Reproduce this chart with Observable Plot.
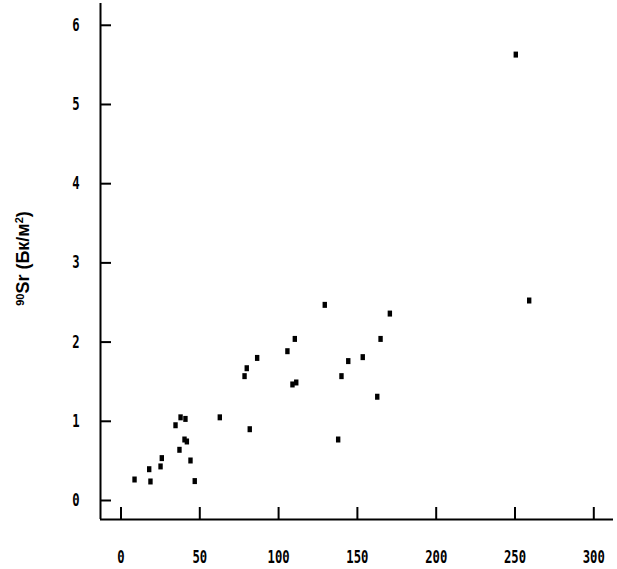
<!DOCTYPE html>
<html>
<head>
<meta charset="utf-8">
<script src="https://cdn.jsdelivr.net/npm/d3@7"></script>
<script src="https://cdn.jsdelivr.net/npm/@observablehq/plot@0.6"></script>
<style>
  html, body { margin: 0; padding: 0; background: #fff; }
</style>
</head>
<body>
<div id="chart"></div>
<script>
// Data
const xVals = [8.6, 18.7, 17.9, 25.1, 25.9, 34.6, 37.8, 40.9, 37.1, 40.3, 41.8, 44.1, 46.8,
               62.7, 81.7, 78.4, 79.8, 86.4, 105.6, 110.3, 108.8, 111.2, 129.3,
               170.6, 164.7, 153.4, 144.2, 139.9, 162.6, 137.8, 250.5, 259.0];
const yVals = [0.265, 0.24, 0.395, 0.43, 0.535, 0.95, 1.05, 1.03, 0.64, 0.77, 0.745, 0.505, 0.245,
               1.05, 0.90, 1.57, 1.67, 1.80, 1.885, 2.04, 1.465, 1.49, 2.47,
               2.36, 2.04, 1.81, 1.76, 1.57, 1.31, 0.77, 5.63, 2.525];
const xTicks = [0, 50, 100, 150, 200, 250, 300];
const yTicks = [0, 1, 2, 3, 4, 5, 6];
// y label pieces: superscript isotope number, main text, superscript exponent, closing
const labelIsotope = "90";
const labelMain = "Sr (Бк/м";
const labelSup = "2";
const labelEnd = ")";
const yLabel = labelIsotope + labelMain + labelSup + labelEnd;

const points = xVals.map((x, i) => ({x, y: yVals[i]}));

const xDomain = [-13, 312.5];
const yDomain = [-0.24, 6.275];

const rectSymbol = {
  draw(context) { context.rect(-2.2, -3, 4.4, 6); }
};

const tickFont = "'DejaVu Sans Mono', monospace";
const fmt = d => String(d);

const chart = Plot.plot({
  width: 617,
  height: 569,
  marginLeft: 100,
  marginRight: 4,
  marginTop: 3,
  marginBottom: 50,
  style: {background: "#fff", color: "#000"},
  x: {domain: xDomain, label: null},
  y: {domain: yDomain, label: null},
  marks: [
    Plot.ruleX([xDomain[0]], {stroke: "#000", strokeWidth: 2}),
    Plot.ruleY([yDomain[0]], {stroke: "#000", strokeWidth: 2}),
    Plot.axisX({ticks: xTicks, tickSize: 12, dy: -12, strokeWidth: 2, tickFormat: () => "", label: null}),
    Plot.axisX({ticks: xTicks, tickSize: 0, tickPadding: 31, tickFormat: fmt, fontSize: 17, fontWeight: "bold", fontFamily: tickFont, label: null}),
    Plot.axisY({ticks: yTicks, tickSize: 11, dx: 11, strokeWidth: 2, tickFormat: () => "", label: null}),
    Plot.axisY({ticks: yTicks, tickSize: 0, tickPadding: 21, tickFormat: fmt, fontSize: 17, fontWeight: "bold", fontFamily: tickFont, label: null}),
    Plot.text([yLabel], {text: d => d, frameAnchor: "left", dx: -77, dy: -3, rotate: -90,
      textAnchor: "middle", lineAnchor: "middle",
      fontSize: 18, fontWeight: "bold", fontFamily: "'Liberation Sans', Arial, sans-serif", fill: "#000"}),
    Plot.dot(points, {x: "x", y: "y", symbol: rectSymbol, fill: "#000", stroke: "none"})
  ]
});

// narrow the tick label glyphs to resemble the plotter font
d3.select(chart).selectAll('g[aria-label="x-axis tick label"] text, g[aria-label="y-axis tick label"] text')
  .each(function() {
    const el = d3.select(this);
    let t = el.attr("transform");
    if (!t) {
      const x = +el.attr("x") || 0, y = +el.attr("y") || 0;
      el.attr("x", null).attr("y", null);
      t = `translate(${x},${y})`;
    }
    el.attr("transform", t + " scale(0.72,1)");
  });

// superscripts in the y label
d3.select(chart).selectAll("text").filter(function() { return this.textContent === yLabel; }).each(function() {
  const el = d3.select(this);
  el.text(null);
  el.append("tspan").attr("font-size", 11).attr("dy", "-0.5em").text(labelIsotope);
  el.append("tspan").attr("font-size", 18).attr("dy", "0.3em").text(labelMain);
  el.append("tspan").attr("font-size", 11).attr("dy", "-0.6em").text(labelSup);
  el.append("tspan").attr("font-size", 18).attr("dy", "0.35em").text(labelEnd);
});

document.getElementById("chart").appendChild(chart);
</script>
</body>
</html>
